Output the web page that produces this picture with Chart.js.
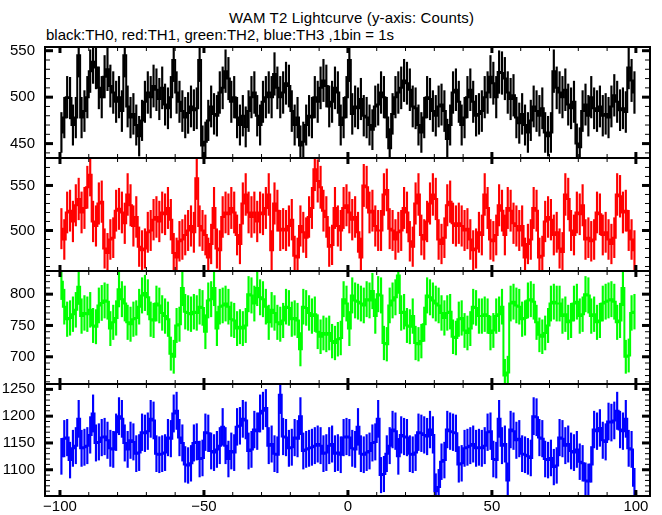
<!DOCTYPE html>
<html>
<head>
<meta charset="utf-8">
<script src="https://cdn.jsdelivr.net/npm/chart.js@4.4.1/dist/chart.umd.min.js"></script>
<style>
  body { margin: 0; background: #fff; width: 662px; height: 515px; position: relative; overflow: hidden;
         font-family: 'Liberation Sans', Arial, sans-serif; color: #000; }
  canvas { position: absolute; left: 0; }
  .txt { position: absolute; font-size: 15px; white-space: nowrap; line-height: 17px; }
</style>
</head>
<body>
<div class="txt" style="left:229px;top:9px;letter-spacing:0.15px">WAM T2 Lightcurve (y-axis: Counts)</div>
<div class="txt" style="left:46px;top:26px">black:TH0, red:TH1, green:TH2, blue:TH3 ,1bin = 1s</div>
<canvas id="p0"></canvas>
<canvas id="p1"></canvas>
<canvas id="p2"></canvas>
<canvas id="p3"></canvas>
<script>
// ---- data (counts per 1 s bin) ----
const binCenters = Array.from({ length: 200 }, (_, i) => i - 99.5);

const th0 = [
  462,478,500,499,470,478,545,478,485,500, 528,538,532,510,500,522,530,512,505,495,
  500,485,545,490,478,482,470,458,475,495, 505,500,512,508,498,510,492,488,500,540,
  505,495,485,478,483,490,486,488,540,448, 452,475,490,482,480,505,510,528,520,495,
  500,478,470,480,468,485,500,505,480,470, 495,500,505,500,525,510,500,505,515,512,
  485,470,478,448,452,470,480,478,500,495, 510,518,512,490,495,510,505,470,478,500,
  540,482,490,488,498,480,478,470,465,490, 492,505,500,478,445,482,500,505,510,518,
  515,508,490,488,470,462,478,500,498,485, 480,490,492,485,455,470,505,508,495,470,
  478,500,508,495,480,482,485,500,505,522, 515,500,527,526,520,505,498,502,478,472,
  482,470,462,475,490,485,480,488,462,458, 462,528,510,505,500,508,492,488,495,450,
  446,485,492,480,500,488,485,490,480,482, 478,490,502,495,486,488,484,532,518,505
];
const th1 = [
  502,490,520,522,510,528,535,520,525,548, 562,510,505,530,532,480,475,490,492,522,
  524,520,508,540,528,505,515,482,478,480, 498,500,512,515,510,520,518,525,512,475,
  470,488,490,495,500,505,498,558,505,500, 495,470,485,525,480,478,515,520,518,525,
  520,495,485,530,540,520,515,520,510,520, 518,525,540,478,530,522,500,502,500,505,
  512,472,470,505,498,492,515,525,568,555, 548,522,515,482,484,525,505,500,525,528,
  520,512,515,498,470,550,548,520,522,505, 500,500,540,545,502,500,490,498,500,525,
  520,488,482,530,540,495,490,510,530,540, 535,490,485,492,528,532,508,505,508,505,
  500,502,490,478,480,498,495,540,525,490, 488,495,528,522,495,525,522,508,505,500,
  505,470,485,490,525,522,470,472,510,515, 512,495,498,480,476,540,535,500,495,520,
  518,528,490,492,488,490,520,518,495,498, 490,485,492,540,538,520,522,500,490,478
];
const th2 = [
  820,780,760,762,768,775,812,765,770,768, 775,750,748,782,786,790,788,745,755,762,
  808,792,785,755,752,760,762,780,798,802, 795,760,758,785,782,770,765,760,705,700,
  750,752,810,772,770,768,772,770,780,778, 740,790,792,810,745,780,782,785,780,760,
  758,745,748,745,750,800,798,785,810,795, 792,780,755,775,770,755,752,758,780,778,
  760,762,758,712,780,778,770,765,768,740, 732,738,735,738,725,722,728,730,792,785,
  745,798,790,788,785,782,792,790,805,765, 800,798,722,720,782,790,795,830,770,772,
  750,748,765,722,720,725,752,798,795,790, 785,782,770,762,770,772,732,730,760,762,
  742,738,745,780,778,765,765,768,765,738, 742,765,768,780,670,675,785,788,782,780,
  760,762,790,792,788,755,735,732,738,750, 785,788,785,785,765,768,755,758,785,788,
  765,768,800,798,765,768,755,758,785,788, 790,792,788,755,758,810,700,702,770,772
];
const th3 = [
  1125,1158,1160,1118,1140,1145,1195,1140,1142,1145, 1165,1205,1150,1152,1160,1162,1155,1140,1138,1170,
  1200,1195,1150,1138,1155,1152,1130,1132,1170,1168, 1172,1195,1192,1130,1128,1130,1132,1160,1158,1205,
  1210,1160,1150,1110,1108,1112,1150,1152,1120,1122, 1170,1168,1135,1132,1138,1145,1180,1145,1120,1135,
  1132,1180,1182,1195,1192,1135,1138,1175,1172,1205, 1210,1215,1145,1148,1130,1128,1240,1162,1160,1140,
  1142,1160,1158,1200,1135,1138,1140,1142,1145,1148, 1145,1130,1132,1145,1148,1130,1132,1128,1160,1162,
  1160,1140,1138,1180,1130,1128,1132,1135,1150,1152, 1195,1090,1092,1130,1145,1175,1172,1125,1165,1162,
  1160,1130,1128,1132,1170,1168,1165,1162,1175,1165, 1060,1068,1115,1118,1175,1172,1170,1168,1110,1112,
  1140,1142,1145,1148,1140,1142,1140,1145,1170,1172, 1120,1118,1195,1145,1148,1080,1175,1172,1155,1158,
  1130,1128,1125,1122,1200,1198,1160,1158,1120,1118, 1122,1105,1108,1160,1158,1145,1148,1135,1132,1138,
  1115,1112,1080,1078,1110,1175,1172,1178,1155,1152, 1190,1188,1192,1210,1175,1172,1195,1140,1138,1070
];

const xTicks = [-100, -50, 0, 50, 100];
const yTicks0 = [450, 500, 550];
const yTicks1 = [500, 550];
const yTicks2 = [700, 750, 800];
const yTicks3 = [1100, 1150, 1200, 1250];

// ---- layout ----
const bounds = [47, 158, 271, 384, 496];   // panel frame edges, px
const xRange = [-105.2, 104.9];
const panels = [
  { id: 'p0', counts: th0, color: '#000000', yMin: 434.5, yMax: 554,   ticks: yTicks0 },
  { id: 'p1', counts: th1, color: '#ff0000', yMin: 455,   yMax: 580.5, ticks: yTicks1 },
  { id: 'p2', counts: th2, color: '#00ff00', yMin: 656.5, yMax: 837,   ticks: yTicks2 },
  { id: 'p3', counts: th3, color: '#0000ff', yMin: 1051,  yMax: 1260,  ticks: yTicks3 }
];

// inward tick marks on all four sides + frame
const frameTicks = {
  id: 'frameTicks',
  afterDatasetsDraw(chart) {
    const { ctx, chartArea: a, scales: { x, y } } = chart;
    const seg = (x1, y1, x2, y2, w) => {
      ctx.lineWidth = w; ctx.beginPath(); ctx.moveTo(x1, y1); ctx.lineTo(x2, y2); ctx.stroke();
    };
    ctx.save();
    ctx.strokeStyle = '#000';
    for (let v = -100; v <= 100; v += 10) {
      const px = x.getPixelForValue(v);
      const major = v % 50 === 0;
      const len = major ? 6 : 4, w = major ? 3 : 1;
      seg(px, a.top, px, a.top + len, w);
      seg(px, a.bottom, px, a.bottom - len, w);
    }
    for (let v = Math.ceil(y.min / 10) * 10; v <= y.max; v += 10) {
      const py = y.getPixelForValue(v);
      const major = v % 50 === 0;
      const len = major ? 8 : 5, w = major ? 3 : 1;
      seg(a.left, py, a.left + len, py, w);
      seg(a.right, py, a.right - len, py, w);
    }
    ctx.lineWidth = 2;
    ctx.strokeRect(a.left, a.top, a.right - a.left, a.bottom - a.top);
    ctx.restore();
  }
};

const font = { family: "'Liberation Sans', Arial, sans-serif", size: 15 };
const fmt = v => (v < 0 ? '\u2212' + Math.abs(v) : String(v));
const noPad = s => { s.paddingTop = 0; s.paddingBottom = 0; s.paddingLeft = 0; s.paddingRight = 0; };

panels.forEach((p, i) => {
  const last = i === panels.length - 1;
  const top = bounds[i] - 5;
  const height = last ? 515 - top : bounds[i + 1] - bounds[i] + 10;
  const canvas = document.getElementById(p.id);
  canvas.width = 662; canvas.height = height;
  canvas.style.top = top + 'px';

  const line = binCenters.map((x, k) => ({ x, y: p.counts[k] }));
  const errs = binCenters.map((x, k) => {
    const e = Math.sqrt(p.counts[k]);   // Poisson error bar
    return { x, y: [p.counts[k] - e, p.counts[k] + e] };
  });

  new Chart(canvas, {
    type: 'line',
    data: {
      datasets: [
        { type: 'bar', data: errs, backgroundColor: p.color, barThickness: 1.5, grouped: false },
        { data: line, borderColor: p.color, borderWidth: 2, stepped: 'middle', pointRadius: 0, fill: false }
      ]
    },
    options: {
      responsive: false, animation: false, devicePixelRatio: 1, events: [],
      layout: { padding: { left: 0, right: 12, top: 5, bottom: last ? 0 : 5 } },
      plugins: { legend: { display: false }, tooltip: { enabled: false } },
      scales: {
        x: {
          type: 'linear', min: xRange[0], max: xRange[1], offset: false, display: last,
          grid: { display: false, drawTicks: false }, border: { display: false },
          afterBuildTicks: s => { s.ticks = xTicks.map(value => ({ value })); },
          afterFit: s => { s.height = last ? 19 : 0; noPad(s); },
          ticks: { font, color: '#000', padding: 2, maxRotation: 0, autoSkip: false, callback: fmt }
        },
        y: {
          type: 'linear', min: p.yMin, max: p.yMax,
          grid: { display: false, drawTicks: false }, border: { display: false },
          afterBuildTicks: s => { s.ticks = p.ticks.map(value => ({ value })); },
          afterFit: s => { s.width = 45; noPad(s); },
          ticks: { font, color: '#000', padding: 10, callback: fmt }
        }
      }
    },
    plugins: [frameTicks]
  });
});
</script>
</body>
</html>
